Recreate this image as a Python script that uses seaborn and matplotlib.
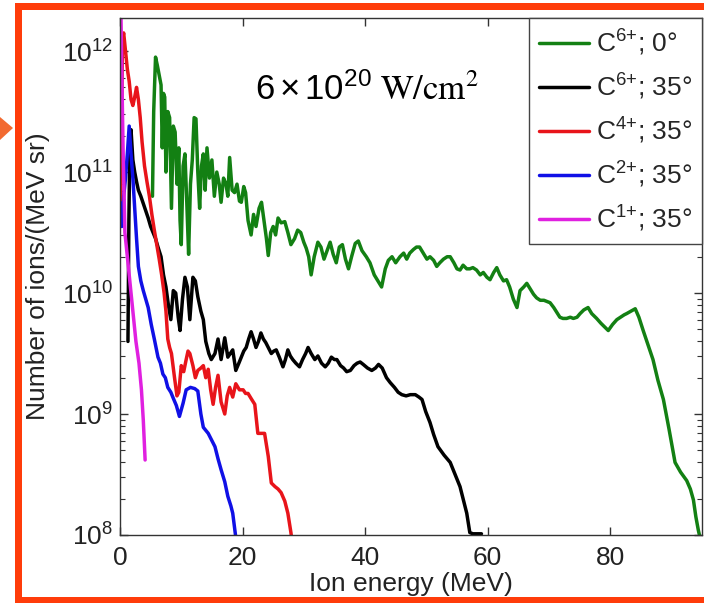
"""Carbon ion spectra (C6+ at 0 deg and 35 deg, lower charge states at 35 deg)."""

import numpy as np
import pandas as pd
import matplotlib
matplotlib.use("Agg")
import matplotlib.pyplot as plt
from matplotlib.patches import Rectangle, Polygon
from matplotlib.ticker import LogLocator, NullFormatter, FixedLocator
import seaborn as sns

# Values: ion energy (MeV) and log10 of ions/(MeV sr)
c6_0_energy = [5.3, 5.5, 5.8, 6.1, 6.4, 6.7, 6.9, 7.1, 7.3, 7.5, 7.8, 8.1, 8.4, 8.7, 9.0, 9.3,
               9.6, 9.8, 10.0, 10.3, 10.6, 10.9, 11.2, 11.5, 11.8, 12.1, 12.4, 12.7, 13.0,
               13.3, 13.6, 13.9, 14.2, 14.6, 15.0, 15.4, 15.8, 16.2, 16.5, 16.9, 17.3, 17.6,
               17.9, 18.3, 18.7, 19.1, 19.5, 19.8, 20.2, 20.5, 20.9, 21.4, 21.8, 22.2, 22.7,
               23.1, 23.5, 23.9, 24.2, 24.6, 25.0, 25.4, 25.8, 26.3, 26.9, 27.4, 27.9, 28.5,
               29.0, 29.5, 30.0, 30.4, 30.8, 31.2, 31.7, 32.3, 32.8, 33.3, 33.8, 34.3, 34.8,
               35.3, 35.8, 36.3, 36.8, 37.3, 37.8, 38.4, 38.9, 39.5, 40.2, 40.8, 41.5, 42.1,
               42.7, 43.3, 43.8, 44.4, 45.0, 45.7, 46.3, 46.8, 47.3, 47.9, 48.4, 48.9, 49.5,
               50.1, 50.6, 51.2, 51.7, 52.2, 52.8, 53.4, 53.9, 54.5, 55.0, 55.5, 56.0, 56.6,
               57.1, 57.6, 58.2, 58.8, 59.3, 59.9, 60.4, 61.0, 61.5, 62.0, 62.6, 63.1, 63.6,
               64.2, 64.8, 65.3, 65.9, 66.4, 67.0, 67.5, 68.0, 68.6, 69.2, 69.7, 70.2, 70.8,
               71.3, 71.8, 72.3, 72.9, 73.5, 74.0, 74.6, 75.1, 75.7, 76.4, 77.0, 77.8, 78.5,
               79.1, 79.7, 80.4, 81.1, 81.7, 82.3, 82.7, 83.4, 84.1, 84.7, 85.4, 86.2, 87.0,
               87.8, 88.7, 89.6, 90.6, 91.5, 92.5, 93.1, 93.6, 94.0, 94.4, 94.8]
c6_0_log = [10.8, 11.5, 11.95, 11.88, 11.8, 11.72, 11.2, 11.65, 11.62, 11.0, 11.5, 11.45,
            10.7, 11.38, 11.33, 10.9, 11.2, 10.6, 10.4, 11.05, 11.15, 10.75, 10.32, 10.9,
            11.1, 11.45, 11.44, 11.0, 10.7, 11.05, 11.15, 10.85, 11.2, 10.95, 11.1, 10.8, 11.0,
            10.9, 10.75, 10.95, 10.9, 10.8, 11.12, 10.85, 10.83, 10.9, 10.76, 10.75, 10.88,
            10.83, 10.6, 10.48, 10.65, 10.55, 10.7, 10.75, 10.6, 10.45, 10.31, 10.5, 10.55,
            10.48, 10.62, 10.58, 10.59, 10.5, 10.4, 10.45, 10.52, 10.5, 10.42, 10.37, 10.3,
            10.15, 10.3, 10.42, 10.38, 10.28, 10.35, 10.42, 10.32, 10.25, 10.38, 10.4, 10.28,
            10.2, 10.3, 10.41, 10.43, 10.35, 10.3, 10.25, 10.15, 10.1, 10.05, 10.2, 10.27, 10.3,
            10.25, 10.3, 10.33, 10.28, 10.33, 10.36, 10.38, 10.38, 10.33, 10.28, 10.3, 10.27,
            10.22, 10.25, 10.28, 10.3, 10.3, 10.25, 10.2, 10.19, 10.23, 10.2, 10.2, 10.21,
            10.19, 10.15, 10.17, 10.13, 10.11, 10.17, 10.21, 10.15, 10.1, 10.11, 10.05, 9.95,
            9.88, 10.02, 10.05, 10.08, 10.03, 9.99, 9.96, 9.94, 9.94, 9.93, 9.92, 9.88, 9.84,
            9.8, 9.79, 9.79, 9.8, 9.79, 9.8, 9.83, 9.86, 9.88, 9.83, 9.79, 9.75, 9.72, 9.69,
            9.74, 9.78, 9.8, 9.82, 9.83, 9.85, 9.87, 9.8, 9.69, 9.57, 9.45, 9.28, 9.12, 8.88,
            8.6, 8.52, 8.45, 8.38, 8.29, 8.15, 8.04, 7.95]

c6_35_energy = [1.3, 1.45, 1.6, 1.8, 2.1, 2.4, 2.7, 3.0, 3.4, 3.8, 4.2, 4.6, 5.0, 5.4, 5.8,
                6.2, 6.7, 7.1, 7.5, 7.9, 8.3, 8.7, 9.1, 9.5, 9.8, 10.2, 10.6, 11.0, 11.4, 11.9,
                12.3, 12.7, 13.2, 13.6, 14.0, 14.5, 14.9, 15.5, 16.0, 16.5, 17.1, 17.6, 18.0,
                18.4, 18.9, 19.4, 19.8, 20.2, 20.6, 21.0, 21.4, 21.8, 22.2, 22.6, 23.0, 23.4,
                23.8, 24.2, 24.7, 25.1, 25.5, 26.0, 26.6, 27.0, 27.4, 27.8, 28.2, 28.7, 29.3,
                29.8, 30.3, 30.7, 31.2, 31.8, 32.3, 32.9, 33.5, 34.0, 34.5, 35.0, 35.4, 36.0,
                36.5, 37.0, 37.6, 38.2, 38.7, 39.2, 39.7, 40.4, 41.1, 41.7, 42.2, 42.8, 43.5,
                44.1, 44.8, 45.4, 46.0, 46.7, 47.4, 48.2, 48.8, 49.3, 49.9, 50.6, 51.2, 51.9,
                52.9, 53.9, 54.7, 55.5, 56.1, 56.6, 57.1, 57.6, 58.3, 59.0]
c6_35_log = [9.6, 10.6, 11.2, 11.35, 11.1, 11.0, 10.92, 10.85, 10.8, 10.74, 10.68, 10.62,
             10.55, 10.5, 10.45, 10.38, 10.3, 10.15, 10.05, 9.9, 9.78, 10.02, 10.0, 9.8, 9.69,
             9.95, 10.13, 10.05, 9.78, 10.13, 10.1, 9.97, 9.85, 9.78, 9.6, 9.5, 9.45, 9.5,
             9.62, 9.45, 9.63, 9.47, 9.5, 9.53, 9.36, 9.42, 9.47, 9.52, 9.55, 9.62, 9.68, 9.62,
             9.55, 9.6, 9.67, 9.62, 9.59, 9.55, 9.5, 9.52, 9.53, 9.47, 9.39, 9.45, 9.53, 9.48,
             9.45, 9.42, 9.39, 9.45, 9.5, 9.55, 9.5, 9.45, 9.48, 9.42, 9.39, 9.42, 9.47, 9.45,
             9.45, 9.4, 9.38, 9.35, 9.36, 9.4, 9.42, 9.43, 9.41, 9.38, 9.36, 9.38, 9.41, 9.38,
             9.3, 9.26, 9.22, 9.18, 9.16, 9.15, 9.16, 9.16, 9.14, 9.12, 9.02, 8.93, 8.83, 8.73,
             8.66, 8.6, 8.5, 8.4, 8.28, 8.18, 8.02, 8.01, 8.01, 8.01]

c4_35_energy = [0.0, 0.2, 0.4, 0.6, 0.9, 1.2, 1.5, 1.8, 2.1, 2.4, 2.7, 3.0, 3.3, 3.6, 4.0,
                4.4, 4.8, 5.2, 5.6, 6.0, 6.4, 6.8, 7.2, 7.5, 7.8, 8.1, 8.4, 8.9, 9.3, 9.6,
                10.0, 10.4, 10.8, 11.1, 11.4, 11.9, 12.3, 12.7, 13.2, 13.6, 14.0, 14.4, 14.8,
                15.2, 15.6, 16.0, 16.5, 17.1, 17.5, 17.9, 18.4, 18.9, 19.5, 20.1, 20.5, 20.9,
                21.5, 22.0, 22.5, 23.0, 23.6, 24.2, 24.7, 25.3, 25.8, 26.3, 26.9, 27.4, 27.9,
                28.2]
c4_35_log = [10.6, 11.0, 12.1, 12.15, 12.0, 11.85, 11.75, 11.6, 11.55, 11.62, 11.7, 11.6,
             11.45, 11.25, 11.05, 10.92, 10.8, 10.65, 10.52, 10.4, 10.28, 10.15, 10.0, 9.85,
             9.62, 9.55, 9.5, 9.3, 9.15, 9.18, 9.4, 9.35, 9.45, 9.52, 9.5, 9.4, 9.3, 9.36,
             9.38, 9.4, 9.3, 9.37, 9.2, 9.08, 9.22, 9.32, 9.1, 9.0, 9.15, 9.22, 9.14, 9.25,
             9.2, 9.2, 9.17, 9.17, 9.12, 9.08, 8.84, 8.84, 8.84, 8.65, 8.43, 8.4, 8.38, 8.35,
             8.28, 8.18, 8.02, 7.9]

c2_35_energy = [0.0, 0.3, 0.6, 0.9, 1.2, 1.5, 1.8, 2.1, 2.4, 2.7, 3.0, 3.4, 3.8, 4.2, 4.6,
                5.1, 5.6, 6.2, 6.6, 7.0, 7.4, 7.8, 8.3, 8.7, 9.2, 9.7, 10.3, 10.8, 11.5, 12.2,
                12.7, 13.2, 13.6, 14.4, 15.0, 15.5, 16.0, 16.5, 17.1, 17.6, 18.1, 18.4, 18.8,
                19.1]
c2_35_log = [10.75, 10.55, 10.8, 10.95, 11.15, 11.38, 11.15, 10.95, 10.7, 10.45, 10.22,
             10.1, 10.02, 9.95, 9.88, 9.74, 9.62, 9.47, 9.42, 9.33, 9.3, 9.22, 9.18, 9.13,
             9.07, 8.98, 9.09, 9.2, 9.22, 9.21, 9.19, 9.0, 8.89, 8.84, 8.78, 8.73, 8.63, 8.54,
             8.44, 8.32, 8.24, 8.18, 8.02, 7.9]

c1_35_energy = [0.1, 0.3, 0.5, 0.8, 1.2, 1.6, 2.1, 2.6, 3.1, 3.5, 3.8, 4.1]
c1_35_log = [12.5, 11.8, 11.2, 10.5, 10.3, 10.1, 9.85, 9.6, 9.42, 9.2, 8.95, 8.62]

series_labels = ["C$^{6{+}}$; 0°", "C$^{6{+}}$; 35°", "C$^{4{+}}$; 35°",
                 "C$^{2{+}}$; 35°", "C$^{1{+}}$; 35°"]
series_colors = ["#138013", "#000000", "#e8141a", "#1010e6", "#e020e0"]
x_ticks = [0, 20, 40, 60, 80]

series = [
    (c6_0_energy, c6_0_log),
    (c6_35_energy, c6_35_log),
    (c4_35_energy, c4_35_log),
    (c2_35_energy, c2_35_log),
    (c1_35_energy, c1_35_log),
]

sns.set_style("ticks")
plt.rcParams["font.family"] = ["Liberation Sans", "DejaVu Sans"]
plt.rcParams["mathtext.default"] = "regular"

FS = 19
W, H = 704, 603
fig = plt.figure(figsize=(W / 100, H / 100), dpi=100)
ax = fig.add_axes([120 / W, 68 / H, 582 / W, 517 / H])

for (energy, logn), label, color in zip(series, series_labels, series_colors):
    df = pd.DataFrame({"energy": energy, "counts": 10 ** np.asarray(logn)})
    sns.lineplot(data=df, x="energy", y="counts", color=color, linewidth=2.5,
                 label=label, estimator=None, errorbar=None, ax=ax)

ax.set_yscale("log")
ax.set_xlim(0, 95)
ax.set_ylim(1e8, 1.876e12)
ax.xaxis.set_major_locator(FixedLocator(x_ticks))
ax.yaxis.set_major_locator(LogLocator(base=10))
ax.yaxis.set_minor_locator(LogLocator(base=10, subs=np.arange(2, 10)))
ax.yaxis.set_minor_formatter(NullFormatter())

ax.tick_params(axis="both", which="both", direction="in", top=True, right=True,
               color="#333333", labelcolor="#222222", labelsize=FS)
ax.tick_params(axis="both", which="major", length=6, width=1.0)
ax.tick_params(axis="both", which="minor", length=3.5, width=0.8)
ax.tick_params(axis="x", pad=8)
ax.tick_params(axis="y", pad=5)
for spine in ax.spines.values():
    spine.set_color("#333333")
    spine.set_linewidth(1.0)

ax.set_xlabel("Ion energy (MeV)", fontsize=FS, color="#222222")
ax.set_ylabel("Number of ions/(MeV sr)", fontsize=FS, color="#222222")
ax.xaxis.set_label_coords(0.5, -0.072)
ax.yaxis.set_label_coords(-0.12, 0.5)

leg = ax.legend(loc="upper right", borderaxespad=0, fancybox=False, framealpha=1,
                edgecolor="#444444", fontsize=FS, handlelength=1.9, handletextpad=0.25,
                labelspacing=0.52, borderpad=0.38)
leg.get_frame().set_linewidth(1.0)

ax.text(0.232, 0.841, r"$6\times10^{20}\ \mathrm{W/cm^{2}}$", transform=ax.transAxes,
        fontsize=25, math_fontfamily="stix", va="baseline", ha="left", color="black")

# orange slide frame and pointer around the figure
def px_box(x0, y0, x1, y1):
    return Rectangle((x0 / W, 1 - y1 / H), (x1 - x0) / W, (y1 - y0) / H,
                     transform=fig.transFigure, color="#ff3c0a", lw=0, zorder=10)

fig.add_artist(px_box(15, 3, 22, H))
fig.add_artist(px_box(15, 3, W, 10))
fig.add_artist(px_box(15, 597, W, H))
fig.add_artist(Polygon([(0, 1 - 117 / H), (13 / W, 1 - 128 / H), (0, 1 - 140 / H)],
                       closed=True, transform=fig.transFigure, color="#f26a30", lw=0))

fig.savefig("out.png", dpi=100)
plt.close(fig)
